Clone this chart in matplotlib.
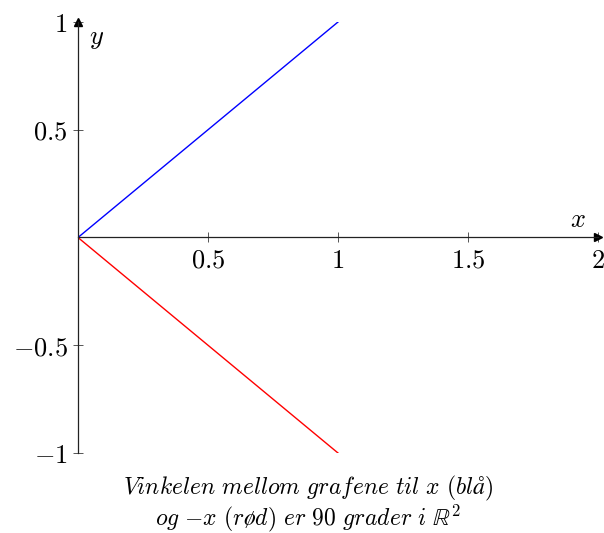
import matplotlib
matplotlib.use('Agg')
import matplotlib.pyplot as plt

plt.rcParams['mathtext.fontset'] = 'cm'

# data
line_x = [0, 1]
blue_y = [0, 1]   # y = x
red_y = [0, -1]   # y = -x
x_ticks = [0.5, 1, 1.5, 2]
x_tick_labels = ['$0.5$', '$1$', '$1.5$', '$2$']
y_ticks = [-1, -0.5, 0.5, 1]
y_tick_labels = ['$-1$', '$-0.5$', '$0.5$', '$1$']

fig = plt.figure(figsize=(6.04, 5.33), dpi=100)
ax = fig.add_axes([78 / 604, 80 / 533, 520 / 604, 431 / 533])

ax.plot(line_x, blue_y, color='blue', linewidth=1.0)
ax.plot(line_x, red_y, color='red', linewidth=1.0)

ax.set_xlim(0, 2)
ax.set_ylim(-1, 1)

for s in ['top', 'right']:
    ax.spines[s].set_visible(False)
ax.spines['left'].set_position(('data', 0))
ax.spines['bottom'].set_position(('data', 0))
for s in ['left', 'bottom']:
    ax.spines[s].set_linewidth(0.9)
    ax.spines[s].set_color('#222222')

# arrow heads
ax.plot(2.0, 0, marker='>', color='black', markersize=6, clip_on=False)
ax.plot(0, 1.0, marker='^', color='black', markersize=6, clip_on=False)

ax.set_xticks(x_ticks)
ax.set_xticklabels(x_tick_labels)
ax.set_yticks(y_ticks)
ax.set_yticklabels(y_tick_labels)
ax.tick_params(direction='inout', length=7, width=0.7, color='#555555',
               labelsize=19, pad=4)

ax.text(0.07, 0.926, '$y$', fontsize=19, ha='center', va='center')
ax.text(1.923, 0.079, '$x$', fontsize=19, ha='center', va='center')

caption = (r'$\mathit{Vinkelen\ mellom\ grafene\ til\ x\ (blå)}$' + '\n' +
           r'$\mathit{og\ }{-x}\mathit{\ (rød)\ er\ }90\mathit{\ grader\ i\ }\mathbb{R}^2$')
fig.text(308 / 604, 1 - 504 / 533, caption, fontsize=17, ha='center',
         va='center', multialignment='center', linespacing=1.0)

fig.savefig('out.png', dpi=100)
